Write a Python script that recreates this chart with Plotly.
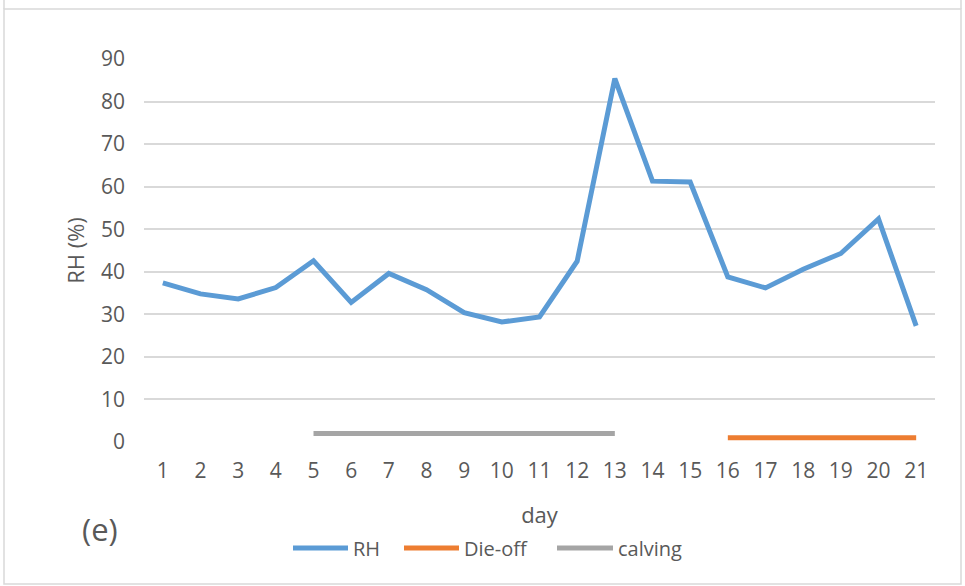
import plotly.graph_objects as go

# Daily relative humidity and event periods
days = list(range(1, 22))
rh = [37.4, 34.8, 33.6, 36.3, 42.6, 32.8, 39.6, 35.8, 30.4, 28.2, 29.4,
      42.5, 85.4, 61.3, 61.1, 38.8, 36.2, 40.6, 44.3, 52.4, 27.3]
calving_days = list(range(5, 14))
calving_level = [2] * len(calving_days)
dieoff_days = list(range(16, 22))
dieoff_level = [1] * len(dieoff_days)

y_ticks = list(range(0, 100, 10))

BLUE = "#5B9BD5"
ORANGE = "#ED7D31"
GREY = "#A5A5A5"
TEXT = "#595959"
GRID = "#D9D9D9"
FONT = "Open Sans"

W, H = 965, 586
L, R, T, B = 144, 30, 59, 144
PW, PH = W - L - R, H - T - B


def px(x):
    return (x - L) / PW


def py(y):
    return (H - B - y) / PH


fig = go.Figure()
fig.add_trace(go.Scatter(x=days, y=rh, mode="lines", name="RH",
                         line=dict(color=BLUE, width=5)))
fig.add_trace(go.Scatter(x=dieoff_days, y=dieoff_level, mode="lines", name="Die-off",
                         line=dict(color=ORANGE, width=5)))
fig.add_trace(go.Scatter(x=calving_days, y=calving_level, mode="lines", name="calving",
                         line=dict(color=GREY, width=5)))

shapes = [
    # chart frame
    dict(type="rect", xref="paper", yref="paper",
         x0=px(4), x1=px(961), y0=py(584), y1=py(9),
         line=dict(color=GRID, width=1.5), fillcolor="rgba(0,0,0,0)", layer="below"),
    dict(type="line", xref="paper", yref="paper",
         x0=px(4), x1=px(4), y0=py(9), y1=py(0), line=dict(color=GRID, width=1.5)),
    dict(type="line", xref="paper", yref="paper",
         x0=px(961), x1=px(961), y0=py(9), y1=py(0), line=dict(color=GRID, width=1.5)),
]
annotations = [
    dict(text="(e)", xref="paper", yref="paper", x=px(100), y=py(529),
         xanchor="center", yanchor="middle", showarrow=False,
         font=dict(family=FONT, size=31, color=TEXT)),
]

# legend entries: swatch line + label
legend_items = [("RH", BLUE, 293, 348), ("Die-off", ORANGE, 404, 459), ("calving", GREY, 557, 613)]
for label, color, x0, x1 in legend_items:
    shapes.append(dict(type="line", xref="paper", yref="paper",
                       x0=px(x0), x1=px(x1), y0=py(548), y1=py(548),
                       line=dict(color=color, width=5)))
    annotations.append(dict(text=label, xref="paper", yref="paper",
                            x=px(x1 + 3), y=py(548), xanchor="left", yanchor="middle",
                            showarrow=False, font=dict(family=FONT, size=20, color=TEXT)))

fig.update_layout(
    width=W, height=H,
    margin=dict(l=L, r=R, t=T, b=B),
    paper_bgcolor="white", plot_bgcolor="white",
    showlegend=False,
    font=dict(family=FONT, color=TEXT, size=20),
    shapes=shapes, annotations=annotations,
    xaxis=dict(
        range=[0.5, 21.5], tickmode="array", tickvals=days,
        ticktext=[str(d) for d in days],
        showgrid=False, zeroline=False, showline=False, ticks="",
        ticklabelstandoff=14,
        tickfont=dict(family=FONT, size=21, color=TEXT),
        title=dict(text="day", font=dict(family=FONT, size=22, color=TEXT), standoff=24),
    ),
    yaxis=dict(
        range=[0, 90], tickmode="array", tickvals=y_ticks,
        showgrid=True, gridcolor=GRID, gridwidth=1.5,
        zeroline=False, showline=False, ticks="",
        ticklabelstandoff=18,
        tickfont=dict(family=FONT, size=21, color=TEXT),
        title=dict(text="RH (%)", font=dict(family=FONT, size=22, color=TEXT), standoff=10),
    ),
)

fig.write_html("out.html")
